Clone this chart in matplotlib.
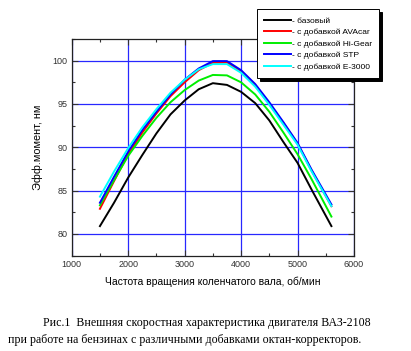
import numpy as np
import matplotlib
matplotlib.use('Agg')
import matplotlib.pyplot as plt
from matplotlib.ticker import MultipleLocator

# частота вращения, об/мин
rpm = [1500, 1750, 2000, 2250, 2500, 2750, 3000, 3250, 3500,
       3750, 4000, 4250, 4500, 4750, 5000, 5250, 5600]

# эффективный момент, Нм
base = [80.9, 83.6, 86.5, 89.1, 91.6, 93.8, 95.4, 96.7, 97.4,
        97.2, 96.4, 95.1, 93.1, 90.6, 88.2, 85.1, 80.9]
avacar = [82.9, 86.1, 89.2, 91.7, 93.9, 95.9, 97.5, 98.9, 99.75,
          99.8, 98.8, 97.2, 95.0, 92.8, 90.4, 87.3, 83.2]
higear = [83.3, 86.2, 89.0, 91.3, 93.4, 95.2, 96.6, 97.7, 98.35,
          98.3, 97.5, 96.1, 94.1, 91.7, 89.2, 86.3, 82.0]
stp = [83.6, 86.6, 89.5, 92.0, 94.1, 96.1, 97.8, 99.1, 99.95,
       99.95, 98.9, 97.3, 95.2, 92.9, 90.5, 87.4, 83.4]
e3000 = [84.3, 87.2, 89.9, 92.3, 94.4, 96.3, 97.8, 99.0, 99.6,
         99.6, 98.6, 97.0, 94.9, 92.6, 90.3, 87.2, 83.2]

labels = ['- базовый', '- с добавкой AVAcar', '- с добавкой Hi-Gear',
          '- с добавкой STP', '- с добавкой E-3000']
colors = ['black', 'red', '#00ee00', '#0000ff', '#00ffff']

W, H = 411, 351
fig = plt.figure(figsize=(W / 100, H / 100), dpi=100)
ax = fig.add_axes([71.7 / W, 1 - 256 / H, 282.3 / W, 217 / H])

# сетка
ax.set_axisbelow(True)
ax.grid(True, which='major', color='#2828ff', linewidth=0.9)

series = [base, avacar, higear, stp, e3000]
for vals, lab, col in zip(series, labels, colors):
    ax.plot(rpm, vals, color=col, linewidth=1.4, label=lab)

ax.set_xlim(1000, 6000)
ax.set_ylim(77.45, 102.5)
ax.xaxis.set_major_locator(MultipleLocator(1000))
ax.xaxis.set_minor_locator(MultipleLocator(500))
ax.yaxis.set_major_locator(MultipleLocator(5))
ax.yaxis.set_minor_locator(MultipleLocator(2.5))
ax.tick_params(which='both', direction='in', top=True, right=True,
               colors='#333333', labelsize=6.5, width=0.8)
ax.tick_params(which='major', length=4, pad=3)
ax.tick_params(which='minor', length=2.5)
for lbl in ax.get_xticklabels() + ax.get_yticklabels():
    lbl.set_family('Liberation Sans')
for sp in ax.spines.values():
    sp.set_color('#222222')
    sp.set_linewidth(0.9)

ax.set_xlabel('Частота вращения коленчатого вала, об/мин',
              family='Liberation Sans', fontsize=7.5, labelpad=5)
ax.set_ylabel('Эфф.момент, нм', family='Liberation Sans', fontsize=7.8,
              labelpad=7)

# легенда с чёрной тенью
leg = fig.legend(loc='upper left', bbox_to_anchor=(252.7 / W, 1 - 5 / H),
                 bbox_transform=fig.transFigure, fancybox=False,
                 edgecolor='black', framealpha=1, borderpad=0.9,
                 handlelength=3.2, handletextpad=0.1, labelspacing=0.45,
                 prop={'family': 'Liberation Sans', 'size': 6},
                 shadow={'color': 'black', 'alpha': 1})
leg.get_frame().set_linewidth(0.7)

# подпись рисунка
fig.text(43 / W, 1 - 323 / H,
         'Рис.1  Внешняя скоростная характеристика двигателя ВАЗ-2108',
         family='Liberation Serif', fontsize=8.6, va='center', ha='left')
fig.text(8 / W, 1 - 340 / H,
         'при работе на бензинах с различными добавками октан-корректоров.',
         family='Liberation Serif', fontsize=8.6, va='center', ha='left')

fig.savefig('out.png', dpi=100)
